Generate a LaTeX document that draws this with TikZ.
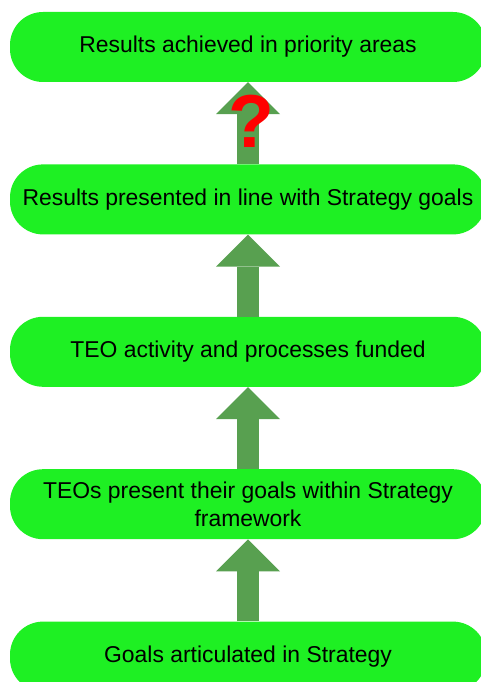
\documentclass[tikz,border=0pt]{standalone}
\usepackage{fontspec}
\setmainfont{Liberation Sans}
\usepackage{xcolor}
\usetikzlibrary{positioning, arrows.meta}

\definecolor{boxgreen}{RGB}{30,240,35}
\definecolor{arrowgreen}{RGB}{88,160,80}

\tikzset{
	stage/.style={rectangle, rounded corners=33pt, fill=boxgreen, minimum width=476pt, minimum height=70pt, inner sep=0pt, align=center, font=\fontsize{22.9}{28}\selectfont},
	uparrow/.style={draw=arrowgreen, line width=22pt, -{Triangle[length=32pt, width=64pt, line width=0pt, fill=arrowgreen]}}
}

\begin{document}
\begin{tikzpicture}[x=1pt, y=1pt, node distance=82pt]
		\useasboundingbox (0,0) rectangle (480,-682);
		
		\node[stage] (results) at (248,-47) {Results achieved in priority areas};
		\node[stage, below = of results] (presented) {Results presented in line with Strategy goals};
		\node[stage, below = of presented] (funded) {TEO activity and processes funded};
		\node[stage, below = of funded] (teos) {TEOs present their goals within Strategy\\framework};
		\node[stage, below = of teos] (goals) {Goals articulated in Strategy};
		
		\draw[uparrow] (presented) edge[] (results);
		\draw[uparrow] (funded) edge[] (presented);
		\draw[uparrow] (teos) edge[] (funded);
		\draw[uparrow] (goals) edge[] (teos);
		
		\node[text=red, font=\fontsize{75}{75}\bfseries\selectfont, inner sep=0pt] (doubt) at (251,-121) {?};
		
	\end{tikzpicture}
\end{document}
